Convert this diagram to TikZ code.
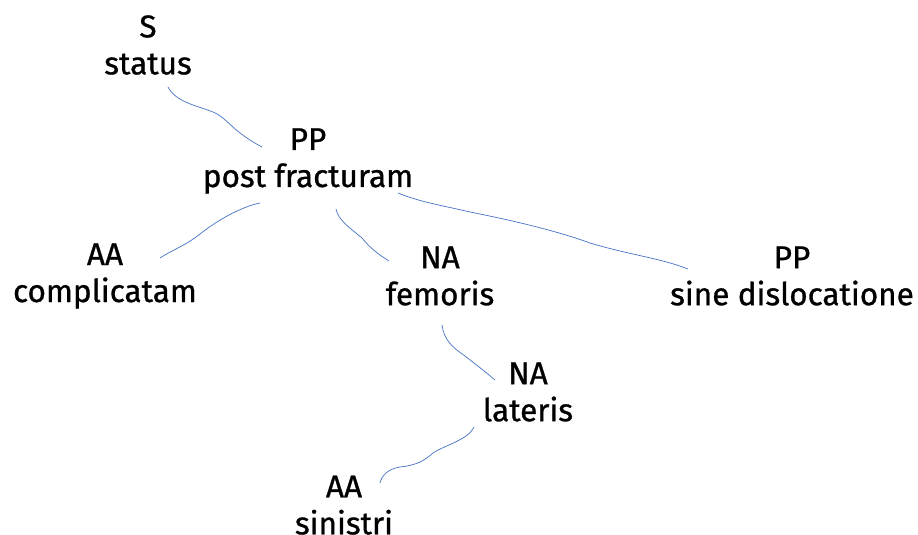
\documentclass[tikz,border=0pt]{standalone}
\usepackage{fontspec}
\setmainfont[FakeBold=0.9]{Fira Sans}
\usetikzlibrary{calc}
\definecolor{edgeblue}{HTML}{4472C4}
\begin{document}
\begin{tikzpicture}[x=1pt,y=-1pt,
  lbl/.style={align=center,inner sep=0pt,font=\fontsize{31.5}{37}\selectfont},
  edge/.style={draw=edgeblue,line width=0.7pt}]
\useasboundingbox (0,0) rectangle (918,535);
\node[lbl] (s) at (148,45) {S\\status};
\node[lbl] (pp) at (308,161) {PP\\post fracturam};
\node[lbl] (aa1) at (105,276) {AA\\complicatam};
\node[lbl] (na1) at (440,276) {NA\\femoris};
\node[lbl] (pp2) at (792,276) {PP\\sine dislocatione};
\node[lbl] (na2) at (528,392) {NA\\lateris};
\node[lbl,text depth=0pt] (aa2) at (344,505) {AA\\sinistri};
% S -> PP
\draw[edge] ($(s)+(20,42)$) .. controls (176,102) and (195,105) .. (213,112)
  .. controls (228,118) and (230,130) .. ($(pp)+(-46,-14)$);
% PP -> AA
\draw[edge] ($(pp)+(-48,42)$) .. controls (240,207) and (215,222) .. (200,234)
  .. controls (185,246) and (172,250) .. ($(aa1)+(55,-18)$);
% PP -> NA femoris
\draw[edge] ($(pp)+(28,48)$) .. controls (338,220) and (350,228) .. (362,238)
  .. controls (370,248) and (378,254) .. ($(na1)+(-51,-15)$);
% PP -> PP sine dislocatione
\draw[edge] ($(pp)+(90,32)$) .. controls (420,202) and (440,205) .. (470,212)
  .. controls (520,222) and (560,232) .. (590,243)
  .. controls (630,255) and (660,258) .. ($(pp2)+(-104,-7)$);
% NA femoris -> NA lateris
\draw[edge] ($(na1)+(2,49)$) .. controls (444,340) and (452,347) .. (465,356)
  .. controls (478,366) and (488,374) .. ($(na2)+(-33,-12)$);
% NA lateris -> AA sinistri
\draw[edge] ($(na2)+(-54,35)$) .. controls (468,440) and (445,445) .. (433,453)
  .. controls (425,460) and (418,465) .. (400,467)
  .. controls (388,469) and (382,475) .. ($(aa2)+(36,-22)$);
\end{tikzpicture}
\end{document}
